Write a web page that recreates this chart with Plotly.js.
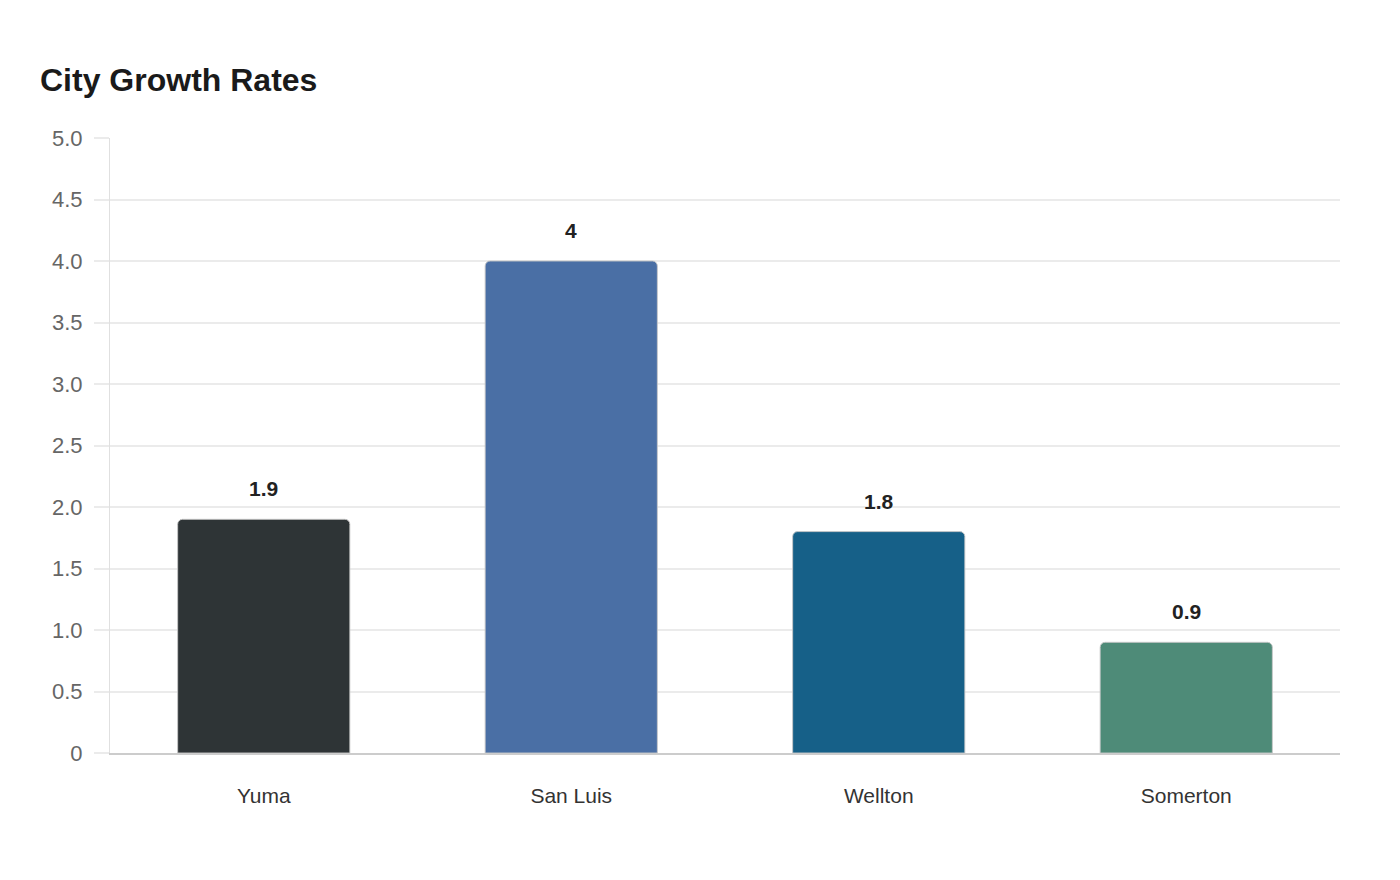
<!DOCTYPE html>
<html>
<head>
<meta charset="utf-8">
<script src="https://cdn.plot.ly/plotly-3.0.1.min.js"></script>
<style>html,body{margin:0;padding:0;background:#fff;}#chart{width:1400px;height:880px;}</style>
</head>
<body>
<div id="chart"></div>
<script>
const cities = ["Yuma", "San Luis", "Wellton", "Somerton"];
const growthRates = [1.9, 4, 1.8, 0.9];
const barColors = ["#2e3436", "#4a6fa5", "#166088", "#4e8b78"];
const yTickVals = [0, 0.5, 1, 1.5, 2, 2.5, 3, 3.5, 4, 4.5, 5];
const yTickText = ["0", "0.5", "1.0", "1.5", "2.0", "2.5", "3.0", "3.5", "4.0", "4.5", "5.0"];

const FONT = "Liberation Sans, Arial, sans-serif";

const trace = {
  type: "bar",
  x: cities,
  y: growthRates,
  marker: {
    color: barColors,
    cornerradius: 5,
    line: {color: "rgba(200,200,200,0.9)", width: 1}
  },
  hoverinfo: "x+y"
};

const annotations = cities.map((c, i) => ({
  x: c, y: growthRates[i], xref: "x", yref: "y",
  text: "<b>" + growthRates[i] + "</b>",
  showarrow: false, yanchor: "bottom", yshift: 17,
  font: {family: FONT, size: 21, color: "#222"}
}));

const layout = {
  width: 1400, height: 880,
  paper_bgcolor: "#fff", plot_bgcolor: "#fff",
  margin: {l: 110, r: 60, t: 138, b: 127},
  title: {
    text: "<b>City Growth Rates</b>",
    x: 40/1400, xanchor: "left", xref: "container",
    y: 1 - 80/880, yanchor: "middle", yref: "container",
    font: {family: FONT, size: 32, color: "#1a1a1a"}
  },
  bargap: 0.44,
  showlegend: false,
  xaxis: {
    type: "category",
    showgrid: false,
    showline: true, linecolor: "#cccccc", linewidth: 2,
    ticks: "", ticklabelstandoff: 23,
    tickfont: {family: FONT, size: 21, color: "#333"}
  },
  yaxis: {
    range: [0, 5], fixedrange: true,
    tickvals: yTickVals, ticktext: yTickText,
    showgrid: true, gridcolor: "#ebebeb", gridwidth: 1.5,
    zeroline: false,
    showline: true, linecolor: "#e0e0e0", linewidth: 1,
    ticks: "outside", ticklen: 15, tickcolor: "#ebebeb", tickwidth: 1.5,
    ticklabelstandoff: 7,
    tickfont: {family: FONT, size: 22, color: "#666"}
  },
  annotations: annotations
};

Plotly.newPlot("chart", [trace], layout, {displayModeBar: false, responsive: false});
</script>
</body>
</html>
